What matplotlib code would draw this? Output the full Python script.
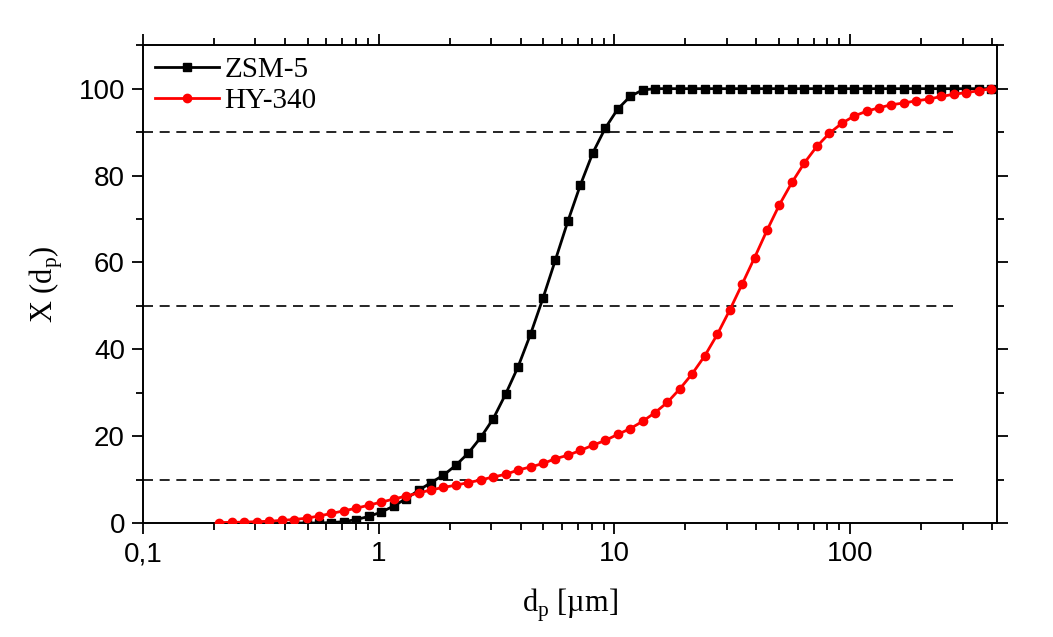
import numpy as np
import matplotlib
matplotlib.use("Agg")
import matplotlib.pyplot as plt
from matplotlib.ticker import FixedLocator, FixedFormatter, LogLocator, MultipleLocator, NullFormatter

# size classes (um)
d_p = [0.211, 0.2383, 0.2691, 0.3039, 0.3432, 0.3876, 0.4377, 0.4943, 0.5582, 0.6304,
       0.7119, 0.8039, 0.9078, 1.025, 1.158, 1.307, 1.476, 1.667, 1.883, 2.126,
       2.401, 2.711, 3.062, 3.458, 3.905, 4.410, 4.980, 5.623, 6.350, 7.171,
       8.098, 9.145, 10.33, 11.66, 13.17, 14.87, 16.80, 18.97, 21.42, 24.19,
       27.32, 30.85, 34.84, 39.34, 44.43, 50.17, 56.66, 63.98, 72.25, 81.59,
       92.11, 104.0, 117.5, 132.7, 149.8, 169.2, 191.0, 215.8, 243.6, 275.1,
       310.7, 350.9, 396.2]

# ZSM-5 starts at the 7th class
zsm5_start = 6
zsm5 = [0.0, 0.0, 0.0, 0.1, 0.3, 0.8, 1.5, 2.5, 3.9, 5.6,
        7.5, 9.3, 11.0, 13.3, 16.1, 19.7, 24.0, 29.7, 36.0, 43.5,
        51.8, 60.6, 69.5, 77.8, 85.2, 90.9, 95.3, 98.2, 99.7, 100.0,
        100.0, 100.0, 100.0, 100.0, 100.0, 100.0, 100.0, 100.0, 100.0, 100.0,
        100.0, 100.0, 100.0, 100.0, 100.0, 100.0, 100.0, 100.0, 100.0, 100.0,
        100.0, 100.0, 100.0, 100.0, 100.0, 100.0, 100.0]

hy340 = [0.1, 0.15, 0.2, 0.3, 0.4, 0.6, 0.8, 1.1, 1.6, 2.2,
         2.8, 3.4, 4.1, 4.8, 5.5, 6.2, 6.9, 7.6, 8.2, 8.7,
         9.3, 9.9, 10.6, 11.2, 12.2, 12.9, 13.7, 14.8, 15.6, 16.7,
         17.9, 19.0, 20.4, 21.7, 23.4, 25.4, 27.8, 30.9, 34.4, 38.5,
         43.4, 49.0, 55.0, 61.1, 67.4, 73.3, 78.4, 82.9, 86.7, 89.7,
         92.0, 93.7, 94.8, 95.6, 96.3, 96.7, 97.2, 97.6, 98.2, 98.7,
         99.1, 99.5, 100.0]

ref_levels = [10, 50, 90]
ref_end = 280

x_ticks = [0.1, 1, 10, 100]
x_ticklabels = ["0,1", "1", "10", "100"]

serif = "Liberation Serif"
sans = "Liberation Sans"

fig = plt.figure(figsize=(10.53, 6.37), dpi=100)
ax = fig.add_axes([0.1358, 0.179, 0.811, 0.750])

for lvl in ref_levels:
    ax.plot([0.1, ref_end], [lvl, lvl], color="black", lw=1.2, ls=(0, (6, 4)), zorder=1)

ax.plot(d_p[zsm5_start:], zsm5, color="black", lw=2.0, marker="s", ms=5.5,
        label="ZSM-5", zorder=3)
ax.plot(d_p, hy340, color="#ff0000", lw=2.0, marker="o", ms=6,
        label="HY-340", zorder=4)

ax.set_xscale("log")
ax.set_xlim(0.1, 420)
ax.set_ylim(0, 110)

ax.xaxis.set_major_locator(FixedLocator(x_ticks))
ax.xaxis.set_major_formatter(FixedFormatter(x_ticklabels))
ax.xaxis.set_minor_locator(LogLocator(base=10, subs=np.arange(2, 10)))
ax.xaxis.set_minor_formatter(NullFormatter())
ax.yaxis.set_major_locator(MultipleLocator(20))
ax.yaxis.set_minor_locator(MultipleLocator(10))

ax.tick_params(which="both", direction="out", top=True, right=True, width=1.3)
ax.tick_params(which="major", length=8, labelsize=20, pad=5)
ax.tick_params(which="minor", length=5)
for lab in ax.get_xticklabels() + ax.get_yticklabels():
    lab.set_fontfamily(sans)
for s in ax.spines.values():
    s.set_linewidth(1.4)

ax.set_xlabel(r"d$_\mathregular{p}$ [µm]", fontsize=22, fontfamily=serif, labelpad=14)
ax.set_ylabel(r"X (d$_\mathregular{p}$)", fontsize=22, fontfamily=serif, labelpad=10)

ax.legend(loc="upper left", frameon=False, prop={"family": serif, "size": 21},
          handlelength=2.2, handletextpad=0.2, borderaxespad=0.1, labelspacing=0.15,
          borderpad=0.3)

fig.savefig("out.png", dpi=100)
